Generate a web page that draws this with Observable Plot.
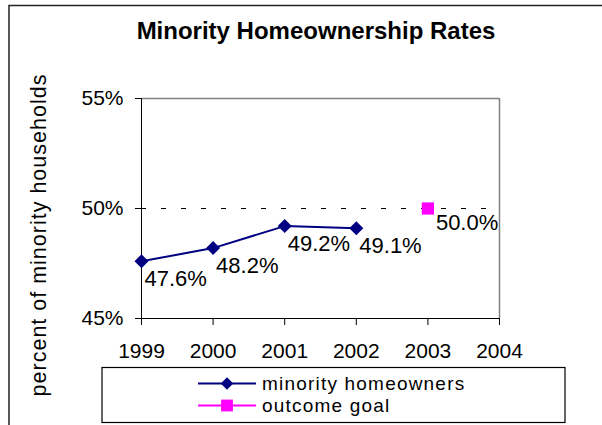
<!DOCTYPE html>
<html>
<head>
<meta charset="utf-8">
<script src="https://cdn.jsdelivr.net/npm/d3@7"></script>
<script src="https://cdn.jsdelivr.net/npm/@observablehq/plot@0.6"></script>
<style>
html, body { margin: 0; padding: 0; background: #fff; }
#wrap { position: relative; width: 602px; height: 425px; overflow: hidden; background: #fff; }
#wrap > svg { position: absolute; left: 0; top: 0; }
</style>
</head>
<body>
<div id="wrap"></div>
<script>
// ---- data ----
const chartTitle = "Minority Homeownership Rates";
const yAxisTitle = "percent of minority households";
const years = [1999, 2000, 2001, 2002];
const rates = [47.6, 48.2, 49.2, 49.1];
const goalYears = [2003];
const goalRates = [50.0];
const xTicks = [1999, 2000, 2001, 2002, 2003, 2004];
const yTicks = [45, 50, 55];
const seriesNames = ["minority homeowners", "outcome goal"];
const seriesColors = ["#000080", "#ff00ff"];

const minority = years.map((y, i) => ({year: y, rate: rates[i]}));
const goal = goalYears.map((y, i) => ({year: y, rate: goalRates[i]}));

const FONT = "Arial, 'Liberation Sans', sans-serif";

const chart = Plot.plot({
  width: 602,
  height: 425,
  marginLeft: 141,
  marginRight: 103,
  marginTop: 98,
  marginBottom: 107,
  x: {domain: [xTicks[0], xTicks[xTicks.length - 1]]},
  y: {domain: [yTicks[0], yTicks[yTicks.length - 1]]},
  style: {fontFamily: FONT, fontSize: "21px", color: "#000", background: "#fff"},
  marks: [
    Plot.ruleY([yTicks[yTicks.length - 1]], {stroke: "#808080", strokeWidth: 1.5}),
    Plot.ruleX([xTicks[xTicks.length - 1]], {stroke: "#808080", strokeWidth: 1.5}),
    Plot.ruleY(goalRates, {stroke: "#000", strokeWidth: 1, strokeDasharray: "5,15"}),
    Plot.ruleX([xTicks[0]], {stroke: "#000", strokeWidth: 1}),
    Plot.ruleY([yTicks[0]], {stroke: "#000", strokeWidth: 1}),
    Plot.axisX({ticks: xTicks, tickFormat: d => String(d), tickSize: 7, tickPadding: 18, label: null, fontSize: 21, stroke: "#000"}),
    Plot.axisY({ticks: yTicks, tickFormat: d => d + "%", tickSize: 6, tickPadding: 12, label: null, fontSize: 21, stroke: "#000"}),
    Plot.line(minority, {x: "year", y: "rate", stroke: seriesColors[0], strokeWidth: 2}),
    Plot.dot(minority, {x: "year", y: "rate", symbol: "diamond2", r: 6.3, fill: seriesColors[0], stroke: "none"}),
    Plot.dot(goal, {x: "year", y: "rate", symbol: "square", r: 6.9, fill: seriesColors[1], stroke: "none"}),
    Plot.text(minority, {x: "year", y: "rate", text: d => d.rate.toFixed(1) + "%", textAnchor: "start", lineAnchor: "bottom", dx: 3, dy: 25, fontSize: 22, fill: "#000"}),
    Plot.text(goal, {x: "year", y: "rate", text: d => d.rate.toFixed(1) + "%", textAnchor: "start", lineAnchor: "bottom", dx: 8, dy: 21, fontSize: 22, fill: "#000"})
  ]
});

const wrap = document.getElementById("wrap");
wrap.appendChild(chart);

// ---- overlay: outer frame, title, y-axis title, legend ----
const ov = d3.select(wrap).append("svg")
  .attr("width", 602).attr("height", 425)
  .style("pointer-events", "none")
  .attr("font-family", FONT);

ov.append("path")
  .attr("d", "M9,430V5.5H610")
  .attr("fill", "none").attr("stroke", "#222").attr("stroke-width", 1.5);

ov.append("text")
  .attr("x", 316).attr("y", 38.5)
  .attr("text-anchor", "middle")
  .attr("font-size", 24).attr("font-weight", "bold")
  .text(chartTitle);

ov.append("text")
  .attr("transform", "translate(45.5,235) rotate(-90)")
  .attr("text-anchor", "middle")
  .attr("font-size", 21.5)
  .attr("letter-spacing", 1)
  .text(yAxisTitle);

const lg = ov.append("g");
lg.append("rect")
  .attr("x", 102).attr("y", 367.5).attr("width", 463).attr("height", 55)
  .attr("fill", "#fff").attr("stroke", "#000").attr("stroke-width", 1.2);

const symbols = [d3.symbolDiamond2, d3.symbolSquare];
const symSizes = [100, 140];
seriesNames.forEach((name, i) => {
  const cy = 383.5 + i * 22;
  const row = lg.append("g");
  row.append("line")
    .attr("x1", 198).attr("x2", 256).attr("y1", cy).attr("y2", cy)
    .attr("stroke", seriesColors[i]).attr("stroke-width", 2);
  row.append("path")
    .attr("transform", `translate(227,${cy})`)
    .attr("d", d3.symbol(symbols[i], symSizes[i])())
    .attr("fill", seriesColors[i]);
  row.append("text")
    .attr("x", 262).attr("y", cy).attr("dy", "0.32em")
    .attr("font-size", 19)
    .attr("letter-spacing", 1.2)
    .text(name);
});
</script>
</body>
</html>
